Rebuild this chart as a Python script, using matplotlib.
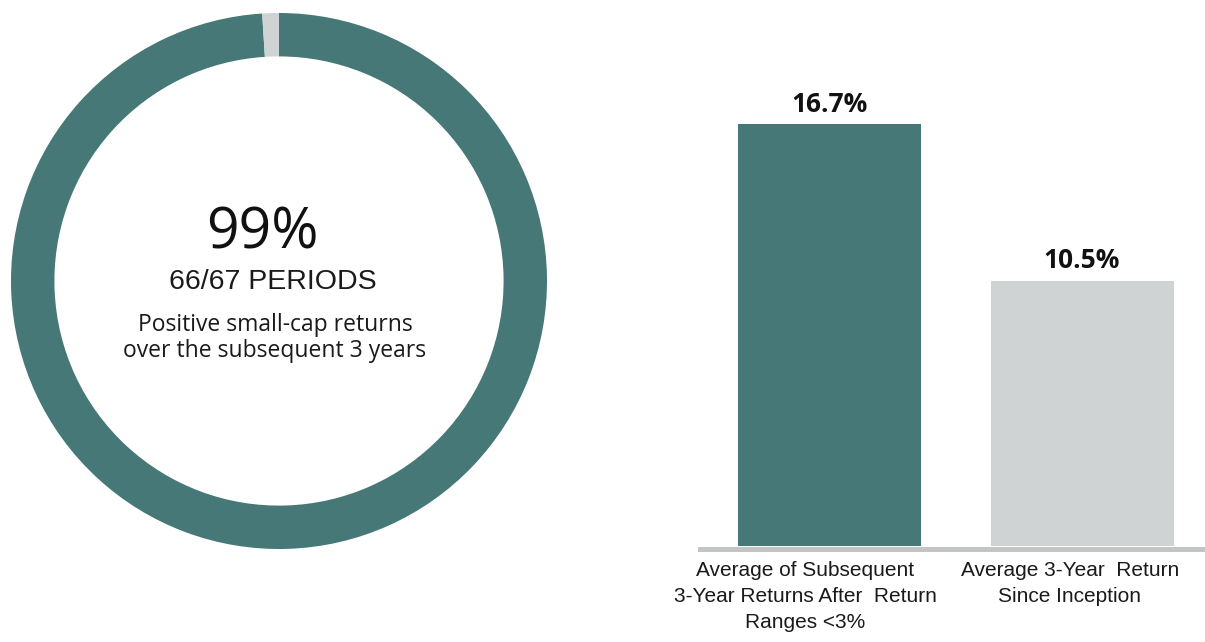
import matplotlib
matplotlib.use("Agg")
import matplotlib.pyplot as plt

# data
ring_values = [99, 1]            # % of 3-year periods positive / not
ring_colors = ["#457877", "#d0d3d3"]
big_number = "99%"
periods_text = "66/67 PERIODS"
ring_caption = "Positive small-cap returns\nover the subsequent 3 years"

bar_labels = ["Average of Subsequent\n3-Year Returns After  Return\nRanges <3%",
              "Average 3-Year  Return\nSince Inception"]
bar_values = [16.7, 10.5]
bar_colors = ["#457877", "#d0d3d3"]

AXIS_GREY = "#c3c5c5"

fig = plt.figure(figsize=(12.05, 6.42), dpi=100)

# ---- donut ----
ax1 = fig.add_axes([11 / 1205, 93 / 642, 536 / 1205, 536 / 642])
ax1.pie(ring_values, colors=ring_colors, startangle=90, counterclock=False,
        radius=1, wedgeprops=dict(width=0.162, linewidth=0))
ax1.set_xlim(-1, 1)
ax1.set_ylim(-1, 1)
ax1.set_aspect("equal")
ax1.axis("off")

ax1.text(-0.063, 0.175, big_number, ha="center", va="center",
         family="Open Sans", fontsize=41, color="#111111")
ax1.text(-0.022, -0.005, periods_text, ha="center", va="center",
         family="Liberation Sans", fontsize=20.5, color="#1a1a1a")
ax1.text(-0.015, -0.12, ring_caption, ha="center", va="top",
         family="Open Sans", fontsize=16.5, color="#1a1a1a", linespacing=1.1)

# ---- bars ----
ax2 = fig.add_axes([700 / 1205, 96 / 642, 505 / 1205, 505 / 642])
x = list(range(len(bar_values)))
bars = ax2.bar(x, bar_values, width=0.725, color=bar_colors, zorder=2)
ax2.axhline(-0.1, color=AXIS_GREY, linewidth=3.6, zorder=1, clip_on=False)
ax2.set_xlim(-0.513, 1.487)
ax2.set_ylim(0, 20)
ax2.axis("off")

for b, v in zip(bars, bar_values):
    ax2.annotate(f"{v:.1f}%", (b.get_x() + b.get_width() / 2, v),
                 xytext=(0, 9), textcoords="offset points",
                 ha="center", va="baseline", family="Open Sans",
                 fontweight="bold", fontsize=19, color="#111111")

label_shift = [-0.097, -0.048]
for xi, lab, s in zip(x, bar_labels, label_shift):
    ax2.text(xi + s, -0.6, lab, ha="center", va="top",
             family="Liberation Sans", fontsize=15, color="#1a1a1a",
             linespacing=1.45)

fig.savefig("out.png", dpi=100)
